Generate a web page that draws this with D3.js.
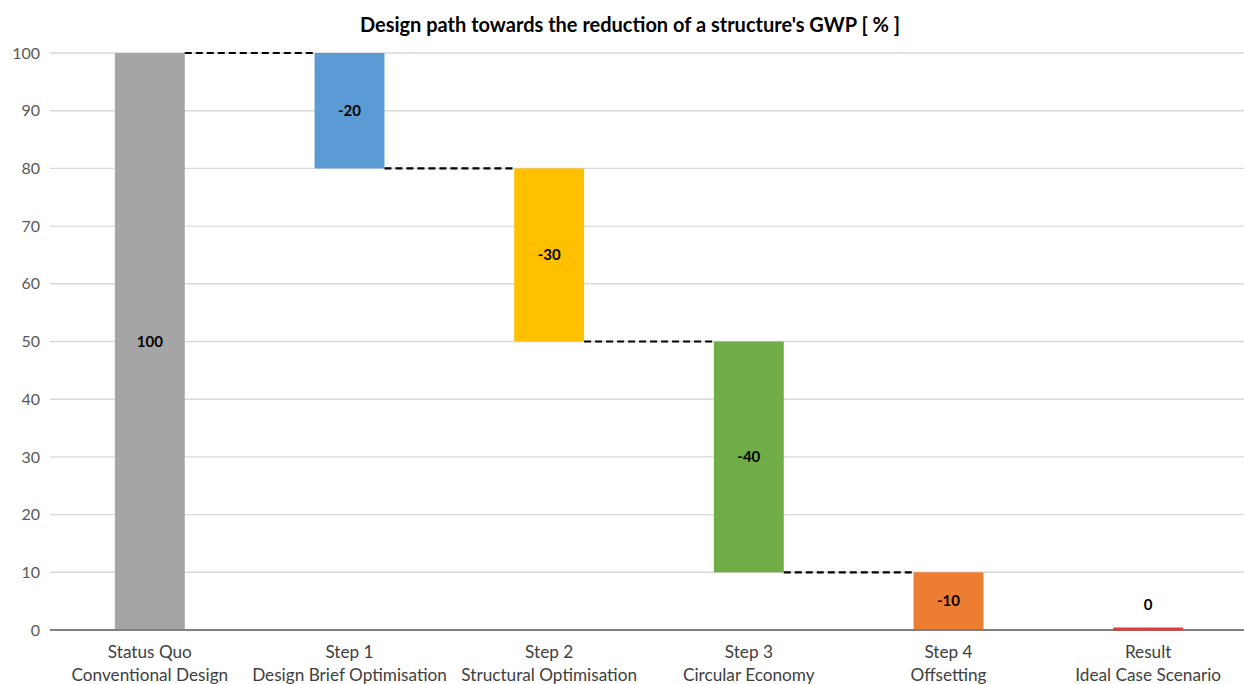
<!DOCTYPE html>
<html><head><meta charset="utf-8">
<script src="https://cdn.jsdelivr.net/npm/d3@7"></script>
<style>body{margin:0;background:#fff}svg{display:block}</style>
</head><body><svg id="c" width="1244" height="684"></svg>
<script>
const title = "Design path towards the reduction of a structure's GWP [ % ]";
const categoriesLine1 = ["Status Quo","Step 1","Step 2","Step 3","Step 4","Result"];
const categoriesLine2 = ["Conventional Design","Design Brief Optimisation","Structural Optimisation","Circular Economy","Offsetting","Ideal Case Scenario"];
const changes = [100,-20,-30,-40,-10,0];
const labels = ["100","-20","-30","-40","-10","0"];
const colors = ["#a5a5a5","#5b9bd5","#ffc000","#70ad47","#ed7d31","#e03c3c"];
const yTicks = [0,10,20,30,40,50,60,70,80,90,100];

const FONT = "Lato, 'Open Sans', sans-serif";

// build waterfall
let run = 0;
const data = changes.map((v,i)=>{
  let lo, hi;
  if(i===0){lo=0;hi=v;run=v;}
  else if(i===changes.length-1){lo=0;hi=run;}
  else {const prev=run; run=prev+v; lo=Math.min(prev,run); hi=Math.max(prev,run);}
  return {i,lo,hi,end:run,label:labels[i],color:colors[i]};
});

const svg = d3.select("#c");
const x = d3.scaleBand().domain(d3.range(changes.length)).range([50,1248]).paddingInner(0.65).paddingOuter(0.325);
const y = d3.scaleLinear().domain([0,100]).range([630,53]);

// gridlines
svg.append("g").selectAll("line").data(yTicks.filter(t=>t>0)).join("line")
  .attr("x1",50).attr("x2",1244).attr("y1",d=>y(d)).attr("y2",d=>y(d))
  .attr("stroke","#d9d9d9").attr("stroke-width",1.4);

// y axis labels
const yAxis = d3.axisLeft(y).tickValues(yTicks).tickSize(0).tickPadding(10);
const ya = svg.append("g").attr("transform","translate(50,0)").call(yAxis);
ya.select(".domain").remove();
ya.selectAll("text").attr("font-family",FONT).attr("font-size",16).attr("fill","#595959");

// bars
svg.append("g").selectAll("rect").data(data.filter(d=>d.hi>d.lo)).join("rect")
  .attr("x",d=>x(d.i)).attr("width",x.bandwidth())
  .attr("y",d=>y(d.hi)).attr("height",d=>y(d.lo)-y(d.hi))
  .attr("fill",d=>d.color);

// connectors
const conns = data.slice(0,-2).map(d=>({from:d.i,to:d.i+1,v:d.end}));
svg.append("g").selectAll("line").data(conns).join("line")
  .attr("x1",d=>x(d.from)+x.bandwidth()).attr("x2",d=>x(d.to))
  .attr("y1",d=>y(d.v)).attr("y2",d=>y(d.v))
  .attr("stroke","#000").attr("stroke-width",2.2).attr("stroke-dasharray","7,4");

// x axis
const xa = svg.append("g").attr("transform","translate(0,630)");
xa.append("line").attr("x1",50).attr("x2",1244).attr("stroke","#7f7f7f").attr("stroke-width",2);

// result bar (zero) as red line
const last = data[data.length-1];
svg.append("line").attr("x1",x(last.i)).attr("x2",x(last.i)+x.bandwidth())
  .attr("y1",y(0)-1).attr("y2",y(0)-1).attr("stroke",last.color).attr("stroke-width",3);

// value labels
svg.append("g").selectAll("text").data(data).join("text")
  .attr("x",d=>x(d.i)+x.bandwidth()/2)
  .attr("y",d=> d.hi>d.lo ? (y(d.lo)+y(d.hi))/2+5 : y(0)-20)
  .attr("text-anchor","middle").attr("font-family",FONT)
  .attr("font-weight","bold").attr("font-size",15).attr("fill","#000")
  .text(d=>d.label);

// category labels
const cl = svg.append("g").selectAll("text").data(d3.range(changes.length)).join("text")
  .attr("text-anchor","middle").attr("font-family",FONT)
  .attr("font-size",17.2).attr("fill","#404040");
cl.append("tspan").attr("x",i=>x(i)+x.bandwidth()/2).attr("y",658).text(i=>categoriesLine1[i]);
cl.append("tspan").attr("x",i=>x(i)+x.bandwidth()/2).attr("y",681).text(i=>categoriesLine2[i]);

// title
svg.append("text").attr("x",630).attr("y",32).attr("text-anchor","middle")
  .attr("font-family",FONT).attr("font-weight","bold").attr("font-size",20)
  .attr("fill","#000").text(title);
</script></body></html>
